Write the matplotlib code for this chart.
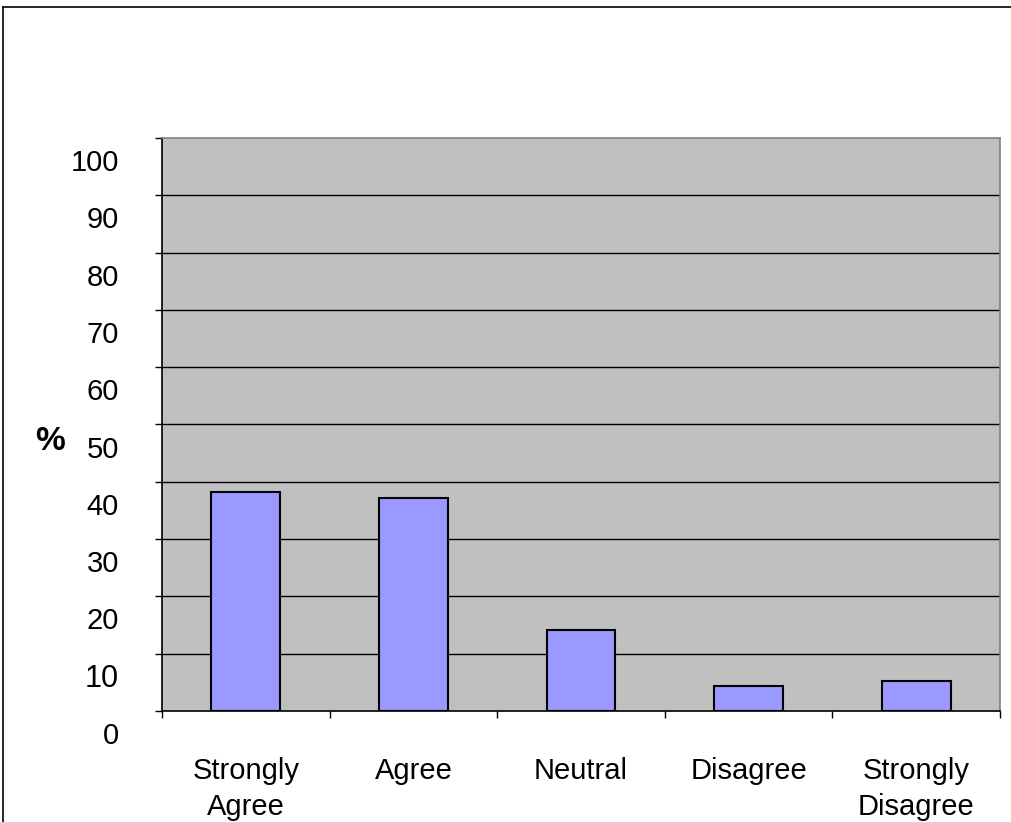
import matplotlib
matplotlib.use("Agg")
import matplotlib.pyplot as plt
import matplotlib.transforms as mtransforms
from matplotlib.lines import Line2D
import numpy as np

categories = ["Strongly\nAgree", "Agree", "Neutral", "Disagree", "Strongly\nDisagree"]
percent = [38.2, 37.1, 14.2, 4.4, 5.2]
yticks = [0, 10, 20, 30, 40, 50, 60, 70, 80, 90, 100]

narrow = ["Liberation Sans Narrow", "Liberation Sans", "DejaVu Sans"]
plt.rcParams["font.family"] = narrow

fig = plt.figure(figsize=(10.12, 8.22), dpi=100)
ax = fig.add_axes([162 / 1012, 1 - 711 / 822, 838 / 1012, 573 / 822])
ax.set_facecolor("#C0C0C0")

x = np.arange(len(categories))
ax.bar(x, percent, width=0.41, color="#9999FF", edgecolor="black", linewidth=1.5, zorder=3)

ax.set_xlim(-0.5, len(categories) - 0.5)
ax.set_ylim(0, 100)

for v in yticks[1:-1]:
    ax.axhline(v, color="black", linewidth=1, zorder=1)

ax.spines["left"].set_color("black")
ax.spines["bottom"].set_color("black")
ax.spines["top"].set_color("#808080")
ax.spines["right"].set_color("#808080")
for s in ax.spines.values():
    s.set_linewidth(1.2)

ax.set_yticks(yticks)
ax.set_yticklabels([str(v) for v in yticks], fontsize=21)
ax.tick_params(axis="y", direction="out", length=5, width=1, pad=26, color="black")

ax.set_xticks(x)
ax.set_xticklabels(categories, fontsize=21, linespacing=1.35)
ax.set_xticks(np.arange(len(categories) + 1) - 0.5, minor=True)
ax.tick_params(axis="x", which="major", length=0, pad=33)
ax.tick_params(axis="x", which="minor", direction="out", length=5, width=1, color="black")

# labels on the y axis sit a bit lower than their gridlines
offset = mtransforms.ScaledTranslation(0, -0.22, fig.dpi_scale_trans)
for lab in ax.get_yticklabels():
    lab.set_transform(lab.get_transform() + offset)
    if lab.get_text() == "10":
        lab.set_family(["Liberation Sans", "DejaVu Sans"])
        lab.set_fontsize(22)

fig.text(50 / 1012, 1 - 441 / 822, "%", fontsize=24, fontweight="bold",
         family=["Liberation Sans", "DejaVu Sans"], ha="center", va="center")

# outer frame (left and top edges visible)
fig.add_artist(Line2D([3 / 1012, 3 / 1012], [0, 1 - 7 / 822], color="black", linewidth=1.2,
                      transform=fig.transFigure))
fig.add_artist(Line2D([3 / 1012, 1], [1 - 7 / 822, 1 - 7 / 822], color="black", linewidth=1.2,
                      transform=fig.transFigure))

fig.savefig("out.png", dpi=100)
